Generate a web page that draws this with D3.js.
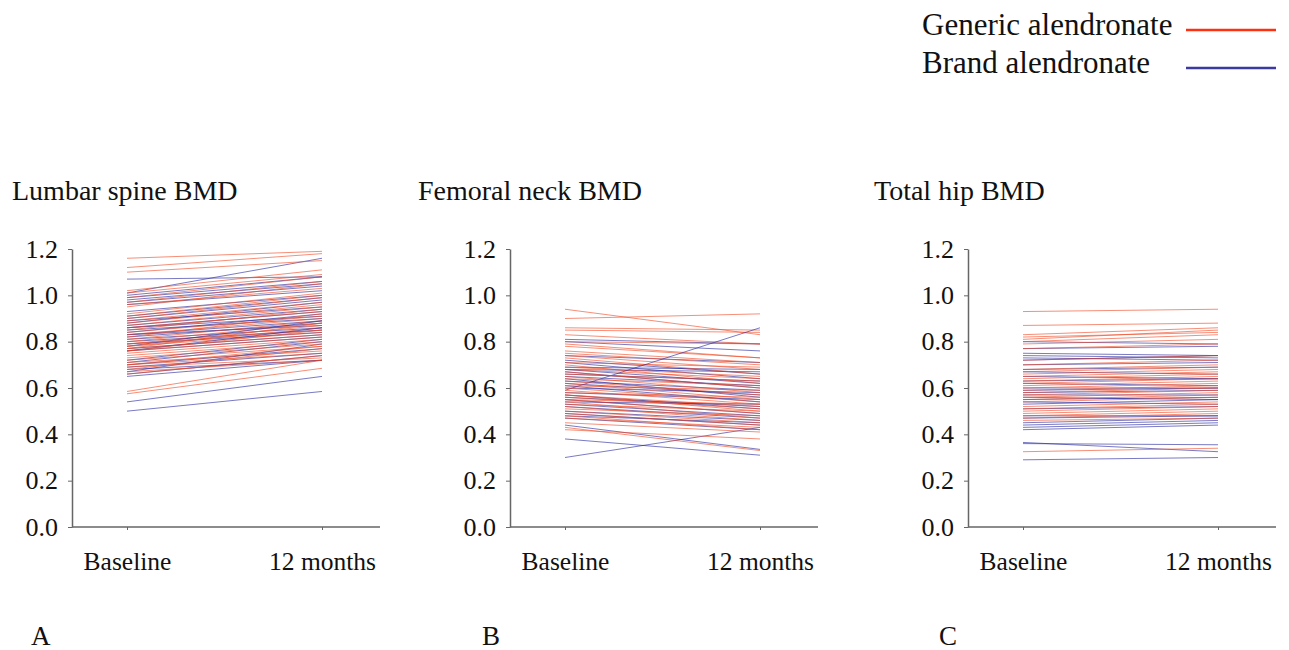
<!DOCTYPE html>
<html>
<head>
<meta charset="utf-8">
<script src="https://cdn.jsdelivr.net/npm/d3@7"></script>
<style>
  body { margin: 0; background: #fff; }
</style>
</head>
<body>
<div id="chart"></div>
<script>
// time points and y ticks
const timePoints = ["Baseline", "12 months"];
const yTicks = [0, 0.2, 0.4, 0.6, 0.8, 1.0, 1.2];

// each pair is [baseline, 12 months]
const lumbarGeneric = [
  [1.16, 1.19], [1.12, 1.18], [1.10, 1.15], [1.02, 1.11], [1.01, 1.09], [0.99, 1.08],
  [0.97, 1.06], [0.96, 1.03], [0.95, 1.05], [0.92, 1.01], [0.91, 1.00], [0.90, 0.99],
  [0.89, 0.97], [0.88, 0.96], [0.87, 0.95], [0.86, 0.93], [0.85, 0.94], [0.84, 0.91],
  [0.83, 0.90], [0.82, 0.92], [0.81, 0.89], [0.80, 0.88], [0.79, 0.87], [0.79, 0.85],
  [0.78, 0.86], [0.78, 0.84], [0.77, 0.83], [0.77, 0.88], [0.76, 0.82], [0.76, 0.85],
  [0.75, 0.81], [0.74, 0.80], [0.73, 0.79], [0.72, 0.78], [0.71, 0.76], [0.70, 0.78],
  [0.70, 0.75], [0.69, 0.73], [0.68, 0.77], [0.67, 0.72], [0.66, 0.74], [0.585, 0.72],
  [0.575, 0.685]
];
const lumbarBrand = [
  [1.07, 1.08], [1.01, 1.16], [1.00, 1.08], [0.99, 1.06], [0.98, 1.05], [0.97, 1.04],
  [0.96, 1.02], [0.93, 1.00], [0.91, 0.99], [0.90, 0.98], [0.89, 0.95], [0.88, 0.97],
  [0.87, 0.94], [0.86, 0.93], [0.86, 0.91], [0.85, 0.90], [0.84, 0.92], [0.83, 0.89],
  [0.83, 0.87], [0.82, 0.88], [0.81, 0.86], [0.80, 0.85], [0.79, 0.84], [0.78, 0.89],
  [0.77, 0.83], [0.76, 0.82], [0.76, 0.86], [0.72, 0.81], [0.71, 0.80], [0.70, 0.77],
  [0.69, 0.75], [0.68, 0.72], [0.67, 0.79], [0.66, 0.74], [0.65, 0.72], [0.54, 0.65],
  [0.50, 0.585]
];

const femoralGeneric = [
  [0.94, 0.83], [0.90, 0.92], [0.86, 0.85], [0.85, 0.84], [0.83, 0.79], [0.80, 0.79],
  [0.79, 0.73], [0.78, 0.73], [0.76, 0.71], [0.75, 0.70], [0.74, 0.68], [0.73, 0.66],
  [0.71, 0.69], [0.70, 0.62], [0.69, 0.65], [0.68, 0.64], [0.67, 0.60], [0.66, 0.63],
  [0.65, 0.58], [0.64, 0.61], [0.63, 0.57], [0.62, 0.55], [0.61, 0.59], [0.60, 0.54],
  [0.59, 0.53], [0.58, 0.56], [0.57, 0.52], [0.57, 0.50], [0.56, 0.51], [0.55, 0.53],
  [0.55, 0.49], [0.54, 0.47], [0.53, 0.50], [0.52, 0.46], [0.51, 0.48], [0.50, 0.45],
  [0.49, 0.44], [0.48, 0.42], [0.47, 0.43], [0.45, 0.41], [0.43, 0.33], [0.42, 0.38]
];
const femoralBrand = [
  [0.81, 0.79], [0.80, 0.76], [0.74, 0.71], [0.72, 0.66], [0.71, 0.64], [0.69, 0.68],
  [0.68, 0.62], [0.68, 0.67], [0.67, 0.60], [0.66, 0.63], [0.65, 0.61], [0.64, 0.56],
  [0.63, 0.59], [0.62, 0.57], [0.61, 0.54], [0.60, 0.58], [0.59, 0.86], [0.58, 0.55],
  [0.57, 0.51], [0.56, 0.52], [0.55, 0.49], [0.54, 0.53], [0.53, 0.48], [0.52, 0.47],
  [0.50, 0.46], [0.49, 0.44], [0.48, 0.45], [0.47, 0.42], [0.44, 0.335], [0.38, 0.31],
  [0.30, 0.43]
];

const hipGeneric = [
  [0.93, 0.94], [0.87, 0.88], [0.83, 0.86], [0.82, 0.84], [0.81, 0.85], [0.80, 0.83],
  [0.79, 0.81], [0.77, 0.79], [0.72, 0.74], [0.70, 0.72], [0.68, 0.70], [0.67, 0.69],
  [0.66, 0.68], [0.65, 0.67], [0.64, 0.66], [0.63, 0.65], [0.62, 0.64], [0.61, 0.63],
  [0.60, 0.62], [0.59, 0.61], [0.58, 0.60], [0.57, 0.59], [0.56, 0.58], [0.55, 0.57],
  [0.54, 0.56], [0.52, 0.54], [0.51, 0.53], [0.50, 0.52], [0.49, 0.51], [0.48, 0.50],
  [0.47, 0.49], [0.46, 0.47], [0.325, 0.34]
];
const hipBrand = [
  [0.80, 0.79], [0.77, 0.78], [0.75, 0.74], [0.74, 0.73], [0.73, 0.72], [0.72, 0.74],
  [0.70, 0.71], [0.68, 0.69], [0.67, 0.66], [0.65, 0.64], [0.63, 0.64], [0.62, 0.61],
  [0.60, 0.60], [0.59, 0.60], [0.58, 0.59], [0.57, 0.57], [0.56, 0.55], [0.55, 0.56],
  [0.54, 0.53], [0.53, 0.55], [0.51, 0.52], [0.48, 0.48], [0.47, 0.48], [0.45, 0.47],
  [0.44, 0.46], [0.43, 0.45], [0.42, 0.44], [0.365, 0.325], [0.36, 0.355], [0.29, 0.30]
];

const panelTitles = ["Lumbar spine BMD", "Femoral neck BMD", "Total hip BMD"];
const panelLetters = ["A", "B", "C"];
const legendLabels = ["Generic alendronate", "Brand alendronate"];

const genericColor = "#f0441e", brandColor = "#22229c";
const serif = "'Liberation Serif', 'Times New Roman', Times, serif";

const W = 1289, H = 650;
const svg = d3.select("#chart").append("svg")
  .attr("width", W).attr("height", H);

// panel layout
const panels = [
  { left: 72, titleX: 12, letterX: 31, generic: lumbarGeneric, brand: lumbarBrand },
  { left: 510, titleX: 418, letterX: 482, generic: femoralGeneric, brand: femoralBrand },
  { left: 968, titleX: 874, letterX: 939, generic: hipGeneric, brand: hipBrand }
];

const y = d3.scaleLinear().domain([0, 1.2]).range([527, 249]);
const x = d3.scalePoint().domain(timePoints).range([55, 250]);
const axisEnd = 308;

const line = d3.line()
  .x((d, i) => x(timePoints[i]))
  .y(d => y(d));

function addText(sel, size) {
  return sel.append("text")
    .style("font-family", serif)
    .style("font-size", size + "px")
    .attr("fill", "#111");
}

panels.forEach((p, k) => {
  addText(svg, 28).attr("x", p.titleX).attr("y", 200).text(panelTitles[k]);
  addText(svg, 27).attr("x", p.letterX).attr("y", 645).text(panelLetters[k]);

  const g = svg.append("g").attr("transform", `translate(${p.left},0)`);

  // mix the two groups so neither colour sits fully on top
  const mixed = [];
  const n = Math.max(p.generic.length, p.brand.length);
  for (let i = 0; i < n; i++) {
    if (p.brand[i]) mixed.push({ v: p.brand[i], c: brandColor });
    if (p.generic[i]) mixed.push({ v: p.generic[i], c: genericColor });
  }

  g.append("g").selectAll("path")
    .data(mixed).join("path")
    .attr("fill", "none")
    .attr("stroke", d => d.c)
    .attr("stroke-opacity", 0.6)
    .attr("stroke-width", 1)
    .attr("d", d => line(d.v));

  // y axis
  const ya = g.append("g")
    .call(d3.axisLeft(y).tickValues(yTicks).tickFormat(d3.format(".1f"))
      .tickSize(4).tickSizeOuter(0).tickPadding(10));

  // x axis
  const xa = g.append("g")
    .attr("transform", `translate(0,${y(0)})`)
    .call(d3.axisBottom(x).tickSize(3).tickSizeOuter(0).tickPadding(22));
  xa.select(".domain").attr("d", `M0,0H${axisEnd}`);

  [ya, xa].forEach(a => {
    a.attr("font-family", null).attr("font-size", null);
    a.select(".domain").attr("stroke", "#666").attr("stroke-width", 1.5);
    a.selectAll(".tick line").attr("stroke", "#666");
    a.selectAll("text")
      .style("font-family", serif)
      .attr("fill", "#111");
  });
  ya.selectAll("text").style("font-size", "26px");
  xa.selectAll("text").style("font-size", "25.5px");
});

// legend
legendLabels.forEach((lab, i) => {
  const ly = 35 + i * 38;
  addText(svg, 31).attr("x", 922).attr("y", ly).text(lab);
  svg.append("line")
    .attr("x1", 1186).attr("x2", 1276)
    .attr("y1", ly - 5).attr("y2", ly - 5)
    .attr("stroke", i === 0 ? "#ff3010" : "#3a3aa0")
    .attr("stroke-width", 2.5);
});
</script>
</body>
</html>
